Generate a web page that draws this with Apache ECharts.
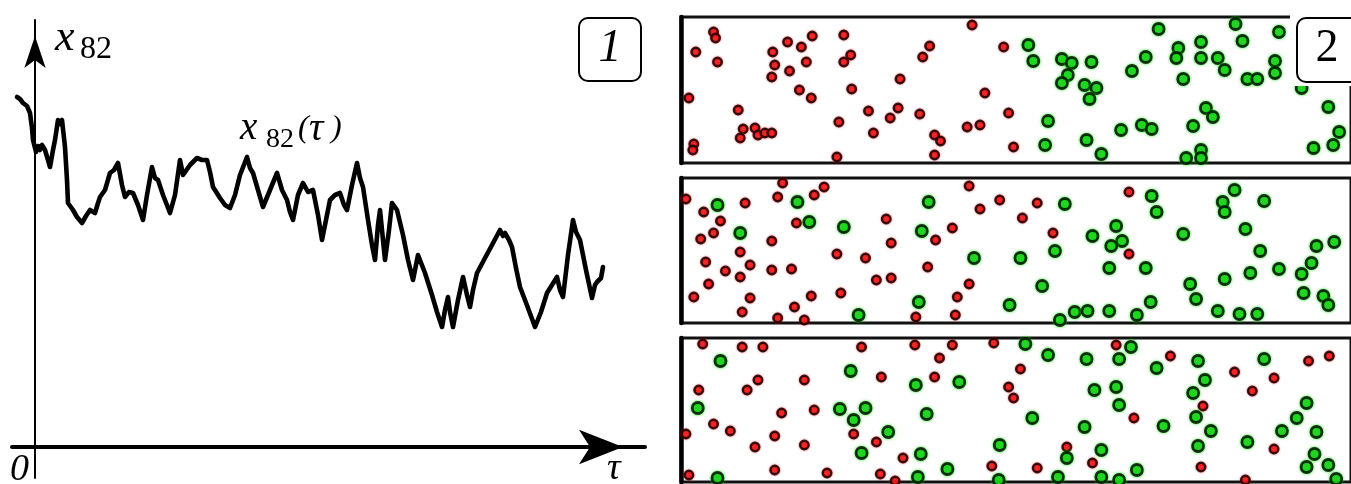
<!DOCTYPE html>
<html>
<head>
<meta charset="utf-8">
<script src="https://cdn.jsdelivr.net/npm/echarts@6/dist/echarts.min.js"></script>
<style>
html,body{margin:0;padding:0;background:#fff;}
#chart{width:1351px;height:484px;}
</style>
</head>
<body>
<div id="chart"></div>
<script>
// Trajectory of coordinate x82 over time tau
const tau = [-18,-15,-12,-8,-5,-3,-2,1,3,5,7,10,13,15,18,20,23,25,27,30,32,33,38,42,47,51,53,55,60,63,65,70,75,79,83,87,90,94,98,103,108,112,117,120,123,128,135,140,145,148,150,155,162,167,172,175,178,185,190,195,200,205,212,215,218,223,228,235,242,247,252,255,258,263,268,273,278,283,287,291,295,300,305,309,312,317,322,325,328,333,337,340,343,345,348,350,354,357,362,368,373,378,383,390,397,402,407,410,413,415,418,423,428,432,435,438,442,450,457,465,468,470,474,477,481,485,493,500,506,512,517,522,525,528,533,538,541,545,551,557,560,562,566,568];
const x82 = [350,348,344,341,334,319,307,295,301,297,302,297,287,280,297,307,327,323,327,300,267,244,237,230,224,231,229,237,234,244,250,257,274,277,284,262,250,255,254,242,227,252,280,269,267,252,234,252,287,272,274,282,289,287,287,275,260,249,242,239,252,272,290,279,274,257,240,257,274,257,247,235,227,252,264,255,257,232,207,227,247,252,254,242,237,262,284,269,260,227,202,187,222,237,207,187,217,244,237,212,187,167,192,174,152,135,120,137,150,135,120,147,170,152,140,157,174,189,202,217,211,214,207,200,179,160,139,120,135,154,162,170,157,150,192,227,215,207,177,149,162,165,169,180];

// Particle snapshots in three channels: [x, depth below the channel top]
const redTop = [[33,15],[35,21],[15,35],[37,45],[108,25],[122,30],[133,19],[165,18],[93,35],[127,45],[95,48],[110,54],[92,60],[172,38],[165,45],[295,8],[252,29],[245,40],[327,30],[222,62],[173,72],[120,73],[132,81],[8,81],[308,76],[58,93],[190,94],[220,91],[212,101],[242,97],[332,96],[160,105],[63,112],[75,111],[78,118],[85,116],[92,116],[60,121],[195,116],[257,118],[263,124],[290,110],[303,108],[13,127],[12,133],[158,140],[257,138],[337,130]];
const greenTop = [[484,12],[352,28],[357,44],[386,42],[396,46],[416,45],[392,58],[386,66],[409,68],[421,71],[414,82],[457,54],[471,40],[504,31],[502,41],[527,25],[527,41],[544,41],[551,53],[509,62],[562,7],[569,24],[574,62],[584,62],[602,44],[602,56],[606,15],[629,71],[656,90],[667,115],[661,128],[641,131],[372,104],[369,128],[411,123],[426,137],[446,113],[467,108],[477,112],[519,109],[532,91],[539,100],[512,141],[527,133],[527,141]];
const redMid = [[103,5],[145,9],[135,17],[98,19],[5,21],[65,25],[23,34],[40,43],[33,55],[20,61],[92,63],[117,45],[60,74],[25,84],[70,87],[45,93],[60,99],[92,92],[112,91],[28,106],[13,119],[70,120],[62,134],[98,140],[115,129],[125,142],[132,118],[162,115],[158,76],[187,80],[208,41],[213,65],[198,102],[213,100],[258,62],[275,50],[250,89],[292,8],[303,31],[323,22],[292,106],[280,119],[278,137],[238,139],[361,25],[346,40],[377,55],[454,14],[454,76]];
const greenMid = [[37,27],[60,55],[118,24],[130,44],[165,49],[251,24],[244,53],[297,80],[241,124],[180,137],[333,127],[389,26],[477,18],[482,34],[441,48],[417,58],[447,63],[436,68],[379,73],[344,80],[434,90],[471,90],[509,56],[549,24],[551,34],[561,12],[591,23],[572,51],[587,73],[577,95],[551,101],[606,91],[629,96],[639,85],[644,68],[662,64],[366,108],[516,106],[522,121],[476,124],[399,134],[412,133],[434,133],[462,137],[384,142],[544,133],[566,136],[584,136],[631,115],[651,118],[656,127]];
const redLow = [[22,6],[62,9],[83,9],[183,9],[237,7],[275,7],[317,5],[262,20],[257,39],[203,39],[125,42],[78,42],[67,52],[18,52],[332,49],[102,75],[135,72],[33,86],[50,93],[5,96],[95,98],[175,96],[198,104],[75,109],[125,107],[225,120],[315,128],[95,132],[148,135],[202,136],[217,143],[8,137],[441,7],[496,18],[344,31],[337,60],[561,34],[601,40],[579,53],[636,23],[657,18],[529,68],[459,80],[391,109],[417,125],[361,130],[527,129],[601,111],[572,142]];
const greenLow = [[40,23],[172,33],[238,47],[282,44],[17,70],[161,71],[187,70],[175,82],[249,76],[210,94],[323,107],[183,115],[243,116],[270,131],[240,139],[37,140],[322,142],[349,6],[372,17],[411,21],[444,21],[456,9],[482,30],[524,23],[591,21],[531,42],[519,55],[419,52],[441,49],[444,67],[522,79],[634,65],[624,80],[356,80],[409,89],[489,88],[537,93],[609,93],[644,94],[426,112],[391,120],[524,108],[574,104],[642,116],[656,127],[634,129],[462,132],[382,139],[426,139],[444,142],[664,141]];

const chart = echarts.init(document.getElementById('chart'), null, {renderer: 'canvas'});

const serif = '"Liberation Serif", "DejaVu Serif", serif';
const off = {show: false};

// Channel panels share the same frame settings
const channels = [
  {top: 17, height: 146, red: redTop, green: greenTop},
  {top: 178, height: 145, red: redMid, green: greenMid},
  {top: 338, height: 144, red: redLow, green: greenLow}
];

const grids = [{left: 12, top: 20, right: 706, bottom: 6}];
const xAxes = [{
  type: 'value', gridIndex: 0, min: -23, max: 610,
  axisLine: {show: true, onZero: true, lineStyle: {color: '#000', width: 4},
    symbol: ['none', 'arrow'], symbolSize: [26, 44], symbolOffset: [0, -22]},
  axisTick: off, axisLabel: off, splitLine: off
}];
const yAxes = [{
  type: 'value', gridIndex: 0, min: -31, max: 427,
  axisLine: {show: true, onZero: true, lineStyle: {color: '#000', width: 2},
    symbol: ['none', 'arrow'], symbolSize: [16, 32], symbolOffset: [0, -16]},
  axisTick: off, axisLabel: off, splitLine: off
}];
const series = [{
  type: 'line', xAxisIndex: 0, yAxisIndex: 0,
  data: tau.map((t, i) => [t, x82[i]]),
  showSymbol: false, silent: true, animation: false,
  lineStyle: {color: '#000', width: 4.6, join: 'round', cap: 'round'}
}];

const redStyle = {color: '#ee2222', borderColor: '#000', borderWidth: 2.4, shadowColor: 'rgba(255,0,0,0.9)', shadowBlur: 2};
const greenStyle = {color: '#22cc22', borderColor: '#000', borderWidth: 2.8, shadowColor: 'rgba(0,235,0,1)', shadowBlur: 3};

channels.forEach((ch, k) => {
  const g = k + 1;
  grids.push({left: 681, top: ch.top, width: 679, height: ch.height,
    show: true, borderColor: '#111', borderWidth: 3, backgroundColor: 'transparent'});
  xAxes.push({type: 'value', gridIndex: g, min: 0, max: 679, show: false});
  yAxes.push({type: 'value', gridIndex: g, min: 0, max: ch.height, inverse: true,
    axisLine: {show: true, onZero: false, lineStyle: {color: '#000', width: 4.5}},
    axisTick: off, axisLabel: off, splitLine: off});
  series.push({type: 'scatter', xAxisIndex: g, yAxisIndex: g, data: ch.red,
    symbol: 'circle', symbolSize: 8.5, itemStyle: redStyle, animation: false, z: 3});
  series.push({type: 'scatter', xAxisIndex: g, yAxisIndex: g, data: ch.green,
    symbol: 'circle', symbolSize: 11, itemStyle: greenStyle, animation: false, z: 4});
});

function txt(str, x, y, size, italic, align) {
  return {
    type: 'text', z: 120, silent: true,
    style: {
      text: str, x: x, y: y,
      font: (italic ? 'italic ' : '') + size + 'px ' + serif,
      fill: '#000',
      align: align || 'left', verticalAlign: 'middle',
      textAlign: align || 'left', textVerticalAlign: 'middle'
    }
  };
}

const graphics = [
  txt('x', 55, 38, 44, true),
  txt('82', 80, 50, 32, false),
  txt('x', 240, 129, 39, true),
  txt('82', 266, 140, 28, false),
  txt('(', 298, 129, 32, true),
  txt('τ', 309, 129, 40, true),
  txt(')', 331, 129, 32, true),
  txt('0', 10, 470, 38, true),
  txt('τ', 607, 469, 38, true),
  {type: 'rect', z: 110, silent: true, shape: {x: 579, y: 18, width: 62, height: 63, r: 9},
    style: {fill: '#fff', stroke: '#000', lineWidth: 2}},
  txt('1', 610, 49, 46, true, 'center'),
  {type: 'rect', z: 105, silent: true, shape: {x: 1290, y: 11, width: 70, height: 75},
    style: {fill: '#fff', stroke: null}},
  {type: 'rect', z: 110, silent: true, shape: {x: 1297, y: 18, width: 70, height: 64, r: 9},
    style: {fill: '#fff', stroke: '#000', lineWidth: 2}},
  txt('2', 1327, 49, 46, false, 'center')
];

chart.setOption({
  backgroundColor: '#fff',
  animation: false,
  grid: grids,
  xAxis: xAxes,
  yAxis: yAxes,
  series: series,
  graphic: {elements: graphics}
});
</script>
</body>
</html>
